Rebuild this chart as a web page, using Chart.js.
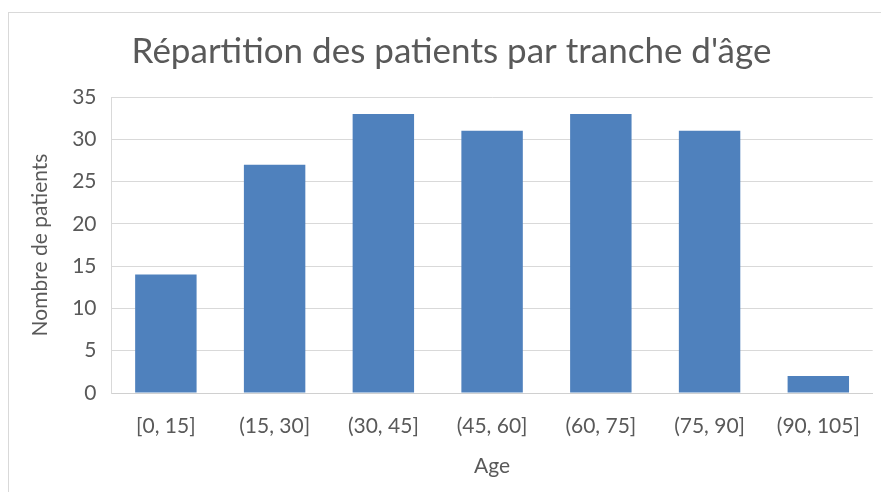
<!DOCTYPE html>
<html>
<head>
<meta charset="utf-8">
<script src="https://cdn.jsdelivr.net/npm/chart.js@4.4.1/dist/chart.umd.min.js"></script>
<style>
  html, body { margin: 0; padding: 0; background: #fff; overflow: hidden; }
  #frame {
    position: absolute; left: 8px; top: 12px;
    width: 900px; height: 500px;
    border: 1px solid #d9d9d9; background: #fff;
  }
  #myChart { display: block; }
</style>
</head>
<body>
<div id="frame"><canvas id="myChart" width="872" height="479"></canvas></div>
<script>
const chartTitle = "Répartition des patients par tranche d'âge";
const ageGroups = ['[0, 15]', '(15, 30]', '(30, 45]', '(45, 60]', '(60, 75]', '(75, 90]', '(90, 105]'];
const patientCounts = [14, 27, 33, 31, 33, 31, 2];
const yTicks = [0, 5, 10, 15, 20, 25, 30, 35];

const textColor = '#595959';
const fontFamily = 'Lato, "Open Sans", sans-serif';

document.addEventListener('DOMContentLoaded', () => {
    const ctx = document.getElementById('myChart').getContext('2d');
    new Chart(ctx, {
        type: 'bar',
        data: {
            labels: ageGroups,
            datasets: [{
                label: 'Nombre de patients',
                data: patientCounts,
                backgroundColor: '#4f81bd',
                borderWidth: 0,
                categoryPercentage: 1,
                barPercentage: 0.565
            }]
        },
        options: {
            responsive: false,
            animation: false,
            layout: { padding: { left: 15, right: 2, top: 0, bottom: 9 } },
            plugins: {
                legend: { display: false },
                tooltip: { enabled: false },
                title: {
                    display: true,
                    text: chartTitle,
                    color: textColor,
                    font: { family: fontFamily, size: 35, weight: 'normal' },
                    padding: { top: 18, bottom: 24 }
                }
            },
            scales: {
                x: {
                    grid: { display: false, drawTicks: false },
                    border: { display: true, color: '#d0d0d0', width: 1 },
                    ticks: {
                        color: textColor,
                        font: { family: fontFamily, size: 21 },
                        padding: 21,
                        maxRotation: 0
                    },
                    title: {
                        display: true,
                        text: 'Age',
                        color: textColor,
                        font: { family: fontFamily, size: 21 }
                    },
                    afterFit: (scale) => { scale.height = 90; }
                },
                y: {
                    min: 0,
                    max: 35,
                    afterBuildTicks: (scale) => { scale.ticks = yTicks.map(v => ({ value: v })); },
                    grid: { color: '#d9d9d9', lineWidth: 1, drawTicks: false },
                    border: { display: true, color: '#d9d9d9', width: 1 },
                    ticks: {
                        color: textColor,
                        font: { family: fontFamily, size: 21 },
                        padding: 15
                    },
                    title: {
                        display: true,
                        text: 'Nombre de patients',
                        color: textColor,
                        font: { family: fontFamily, size: 21 }
                    },
                    afterFit: (scale) => { scale.width = 87.5; }
                }
            }
        }
    });
});
</script>
</body>
</html>
